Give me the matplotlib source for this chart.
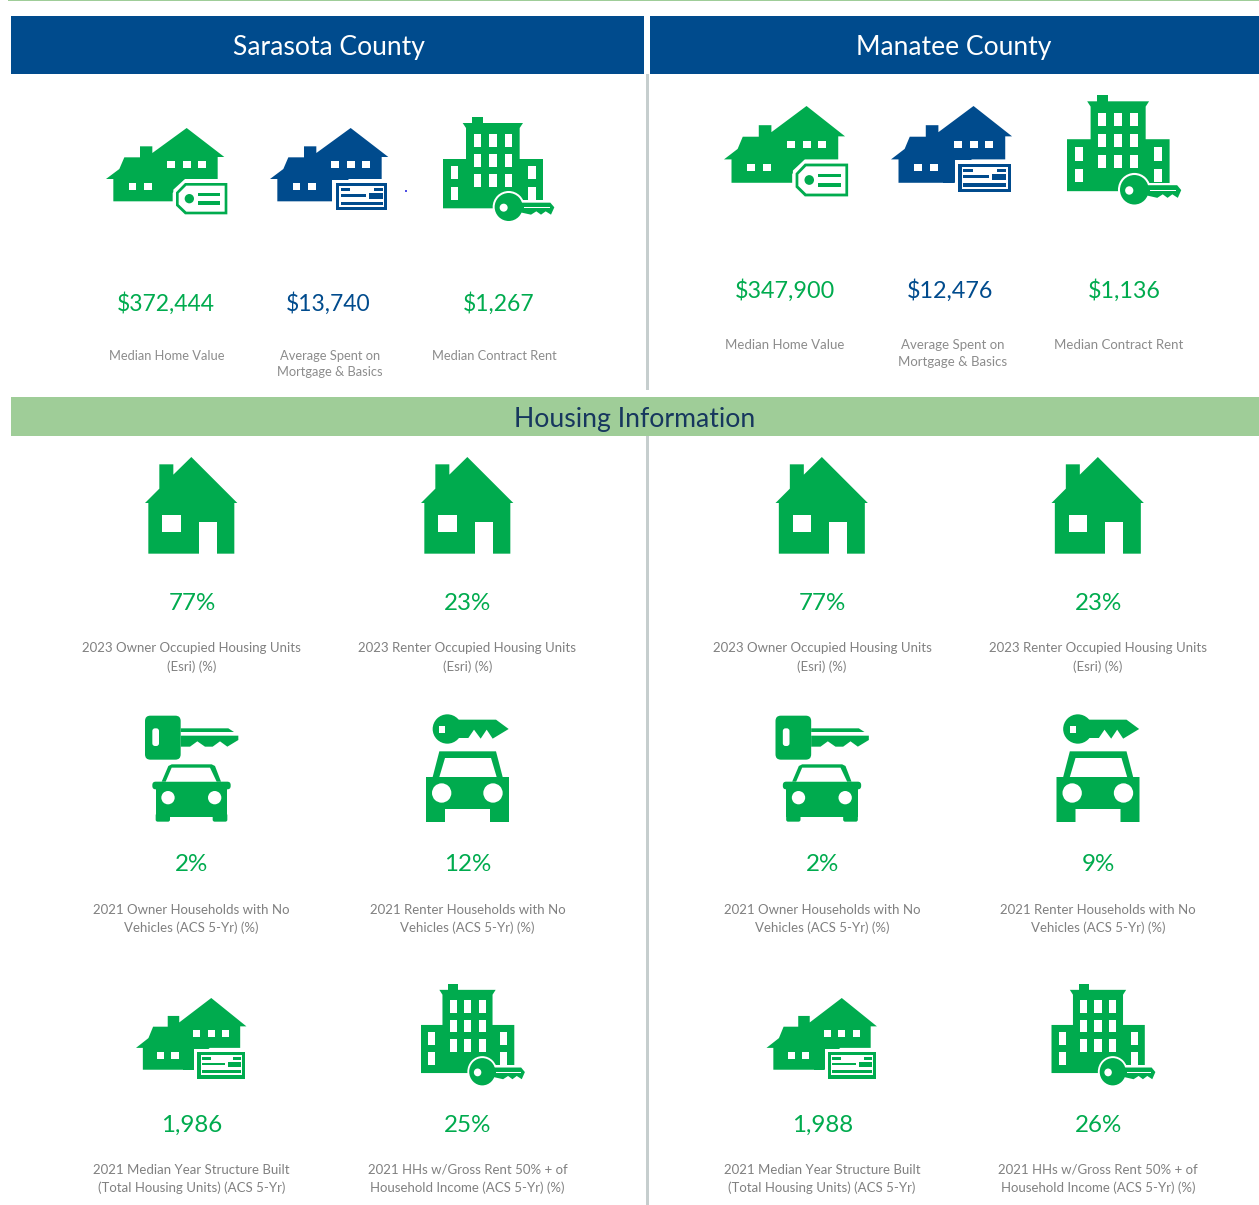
import matplotlib
matplotlib.use("Agg")
import matplotlib.pyplot as plt
from matplotlib.patches import Polygon, Rectangle, Circle, FancyBboxPatch
from matplotlib.transforms import Affine2D

GREEN = '#00AB4E'
BLUE = '#004B8D'
BAND = '#9FCD98'
NAVY = '#17375E'
GREY = '#808080'
RULE = '#C6CECE'

# data
counties = ['Sarasota County', 'Manatee County']
section_title = 'Housing Information'

top_values = [['$372,444', '$13,740', '$1,267'],
              ['$347,900', '$12,476', '$1,136']]
top_labels = ['Median Home Value', 'Average Spent on\nMortgage & Basics', 'Median Contract Rent']

owner_units = ['77%', '77%']
renter_units = ['23%', '23%']
owner_no_car = ['2%', '2%']
renter_no_car = ['12%', '9%']
year_built = ['1,986', '1,988']
rent_burden = ['25%', '26%']

grid_labels = ['2023 Owner Occupied Housing Units\n(Esri) (%)',
               '2023 Renter Occupied Housing Units\n(Esri) (%)',
               '2021 Owner Households with No\nVehicles (ACS 5-Yr) (%)',
               '2021 Renter Households with No\nVehicles (ACS 5-Yr) (%)',
               '2021 Median Year Structure Built\n(Total Housing Units) (ACS 5-Yr)',
               '2021 HHs w/Gross Rent 50% + of\nHousehold Income (ACS 5-Yr) (%)']

plt.rcParams['font.family'] = ['Lato', 'DejaVu Sans']

fig = plt.figure(figsize=(12.59, 12.05), dpi=100, facecolor='w')
ax = fig.add_axes([0, 0, 1, 1])
ax.set_xlim(0, 1259)
ax.set_ylim(1205, 0)
ax.axis('off')


def box(x0, y0, x1, y1, color, tr=None, z=2):
    ax.add_patch(Rectangle((x0, y0), x1 - x0, y1 - y0, facecolor=color, edgecolor='none',
                           zorder=z, transform=tr if tr else ax.transData))


def poly(pts, color, tr, z=3):
    ax.add_patch(Polygon(pts, closed=True, facecolor=color, edgecolor='none', zorder=z, transform=tr))


def disc(x, y, r, color, tr, z=3):
    ax.add_patch(Circle((x, y), r, facecolor=color, edgecolor='none', zorder=z, transform=tr))


def rounded(x, y, w, h, r, color, tr, z=3):
    ax.add_patch(FancyBboxPatch((x, y), w, h, boxstyle='round,pad=0,rounding_size=%d' % r, linewidth=0,
                                facecolor=color, zorder=z, transform=tr))


def place(x, y, s, sy, refx, refy):
    return Affine2D().translate(-refx, -refy).scale(s, sy).translate(x, y) + ax.transData


def big_house(tr, color):
    poly([(48, 238), (88, 208), (103, 173), (150, 173), (150, 140), (187, 140), (187, 160),
          (290, 85), (403, 172), (383, 172), (383, 238), (285, 238), (250, 270), (250, 305),
          (70, 305), (70, 238)], color, tr)
    for wx in [232, 279, 325]:
        box(wx, 184, wx + 23, 206, 'w', tr, 4)
    for wx in [116, 162]:
        box(wx, 250, wx + 23, 272, 'w', tr, 4)


def house_tag(x, y, s, sy, color):
    tr = place(x, y, s, sy, 48, 85)
    big_house(tr, color)
    poly([(248, 280), (283, 241), (421, 241), (421, 352), (283, 352), (248, 322)], 'w', tr, 5)
    poly([(258, 278), (285, 250), (412, 250), (412, 344), (285, 344), (258, 318)], color, tr, 6)
    poly([(266, 281), (289, 258), (404, 258), (404, 336), (289, 336), (266, 314)], 'w', tr, 7)
    disc(298, 297, 14, color, tr, 8)
    box(323, 279, 390, 289, color, tr, 8)
    box(323, 305, 390, 316, color, tr, 8)


def house_cheque(x, y, s, sy, color):
    tr = place(x, y, s, sy, 48, 85)
    big_house(tr, color)
    box(235, 240, 408, 340, 'w', tr, 5)
    box(200, 238, 233, 305, color, tr, 6)
    box(245, 250, 400, 332, color, tr, 6)
    box(256, 260, 390, 322, 'w', tr, 7)
    box(260, 265, 288, 274, color, tr, 8)
    box(360, 265, 386, 274, color, tr, 8)
    box(260, 283, 335, 291, color, tr, 8)
    box(345, 281, 386, 298, color, tr, 8)
    box(260, 307, 386, 316, color, tr, 8)


def building(x, y, s, sy, color):
    tr = place(x, y, s, sy, 1058, 52)
    box(1145, 52, 1178, 72, color, tr)
    poly([(1117, 70), (1298, 70), (1288, 85), (1288, 178), (1358, 178), (1358, 326), (1058, 326),
          (1058, 178), (1127, 178), (1127, 85)], color, tr)
    for wx in [1150, 1196, 1243]:
        for wy in [102, 162, 222]:
            box(wx, wy, wx + 23, wy + 39, 'w', tr, 4)
    for wx in [1081, 1313]:
        for wy in [200, 262]:
            box(wx, wy, wx + 23, wy + 39, 'w', tr, 4)
    # key
    disc(1255, 322, 48, 'w', tr, 5)
    box(1290, 302, 1398, 350, 'w', tr, 5)
    disc(1255, 322, 42, color, tr, 6)
    disc(1240, 324, 12, 'w', tr, 7)
    poly([(1290, 309), (1380, 309), (1392, 323), (1382, 345), (1366, 335), (1352, 345),
          (1338, 335), (1322, 345), (1290, 338)], color, tr, 6)
    box(1300, 322, 1378, 325, 'w', tr, 7)


def plain_house(x, y, s, color):
    tr = place(x, y, s, s, 45, 20)
    poly([(45, 158), (88, 115), (88, 42), (130, 42), (130, 73), (184, 20), (322, 158), (313, 158),
          (313, 310), (55, 310), (55, 158)], color, tr)
    box(97, 193, 152, 246, 'w', tr, 4)
    box(206, 214, 260, 311, 'w', tr, 4)


def key_car_small(x, y, s, color):
    tr = place(x, y, s, s, 75, 45)
    # key head
    rounded(75, 47, 107, 132, 16, color, tr)
    rounded(97, 85, 20, 53, 8, 'w', tr, 4)
    poly([(182, 85), (325, 85), (342, 96), (182, 96)], color, tr)
    poly([(182, 107), (355, 107), (355, 120), (322, 140), (300, 124), (278, 140), (255, 140),
          (232, 124), (210, 140), (182, 140)], color, tr)
    # car
    poly([(125, 245), (145, 198), (155, 193), (275, 193), (285, 198), (303, 245)], color, tr)
    poly([(137, 245), (155, 203), (270, 203), (290, 245)], 'w', tr, 4)
    rounded(97, 245, 235, 23, 10, color, tr)
    box(107, 255, 322, 350, color, tr)
    rounded(107, 340, 43, 25, 6, color, tr)
    rounded(278, 340, 44, 25, 6, color, tr)
    disc(144, 293, 20, 'w', tr, 4)
    disc(284, 293, 20, 'w', tr, 4)


def key_car_big(x, y, s, color):
    tr = place(x, y, s, s, 918, 43)
    disc(982, 88, 44, color, tr)
    box(958, 80, 976, 100, 'w', tr, 4)
    poly([(1015, 60), (1128, 60), (1166, 88), (1118, 117), (1100, 90), (1082, 117), (1062, 90),
          (1045, 115), (1015, 115)], color, tr)
    poly([(958, 155), (1128, 155), (1148, 232), (1167, 232), (1167, 367), (1110, 367), (1110, 328),
          (975, 328), (975, 367), (918, 367), (918, 232), (938, 232)], color, tr)
    poly([(975, 175), (1113, 175), (1130, 232), (958, 232)], 'w', tr, 4)
    disc(965, 280, 29, 'w', tr, 4)
    disc(1119, 280, 29, 'w', tr, 4)


def value(x, y, txt, color=GREEN, size=17.4):
    ax.text(x, y, txt, color=color, fontsize=size, ha='center', va='center', zorder=9)


def label(x, y, txt, size=9.5, gap=1.55, color=GREY):
    ax.text(x, y, txt, color=color, fontsize=size, ha='center', va='top', linespacing=gap, zorder=9)


# frame
box(8, 0, 1259, 1, BAND)
box(11, 16, 644, 74, BLUE)
box(650, 16, 1259, 74, BLUE)
box(646, 74, 649, 390, RULE)
box(646, 436, 649, 1205, RULE)
box(11, 397, 1259, 436, BAND)
ax.text(329, 48, counties[0], color='w', fontsize=19.1, ha='center', va='center', zorder=9)
ax.text(954, 48, counties[1], color='w', fontsize=19.1, ha='center', va='center', zorder=9)
ax.text(635, 419, section_title, color=NAVY, fontsize=19.2, ha='center', va='center', zorder=9)

# top row
house_tag(106, 128, 1 / 3, 1 / 3, GREEN)
house_cheque(270, 128, 1 / 3, 1 / 3, BLUE)
building(443, 117, 1 / 3, 1 / 3, GREEN)
disc(406, 191, 1, '#2222DD', ax.transData)
house_tag(724, 106, 0.341, 0.349, GREEN)
house_cheque(891, 106, 0.341, 0.349, BLUE)
building(1067, 95, 0.342, 0.351, GREEN)

top_colors = [GREEN, BLUE, GREEN]
for xs, ys, vals, sz in [([166, 328, 499], 303.5, top_values[0], 16.5), ([785, 950, 1124], 290.5, top_values[1], 16.8)]:
    for xv, v, c in zip(xs, vals, top_colors):
        value(xv, ys, v, c, sz)
for xs, ys, sz, gp in [([167, 330, 494], 350, 9.3, 1.42), ([785, 953, 1119], 339, 9.5, 1.45)]:
    for xv, t in zip(xs, top_labels):
        label(xv, ys, t, sz, gp, '#8C8C8C')

# housing grid
for i, off in enumerate([0, 630.5]):
    plain_house(145 + off, 457, 1 / 3, GREEN)
    plain_house(421 + off, 457, 1 / 3, GREEN)
    key_car_small(145 + off, 715, 1 / 3, GREEN)
    key_car_big(426 + off, 714, 1 / 3, GREEN)
    house_cheque(136 + off, 998, 0.311, 0.326, GREEN)
    building(421 + off, 984, 0.311, 0.325, GREEN)

    cells = [(192, 603.5, owner_units[i]), (468, 603.5, renter_units[i]),
             (192, 864.5, owner_no_car[i]), (468, 864.5, renter_no_car[i]),
             (192, 1125, year_built[i]), (468, 1125, rent_burden[i])]
    for (cx, cy, v), t in zip(cells, grid_labels):
        value(cx + off, cy, v)
        label(cx + off - 0.5, cy + 39, t)

fig.savefig('out.png', dpi=100, facecolor='w')
